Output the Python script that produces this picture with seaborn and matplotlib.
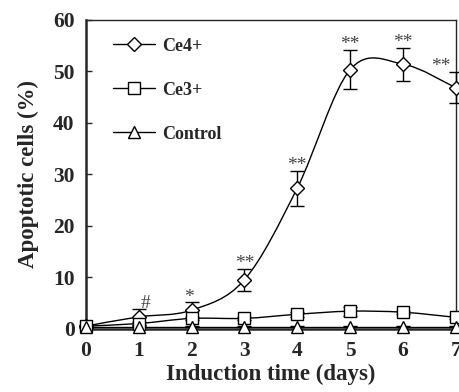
import numpy as np
import pandas as pd
import matplotlib
matplotlib.use("Agg")
import matplotlib.pyplot as plt
import seaborn as sns
from matplotlib.path import Path
from matplotlib.patches import PathPatch
from matplotlib.lines import Line2D

days = [0, 1, 2, 3, 4, 5, 6, 7]
ce4 = [0.5, 2.3, 3.6, 9.5, 27.3, 50.3, 51.4, 46.8]
ce4_err = [0.3, 1.6, 1.5, 2.1, 3.4, 3.8, 3.2, 3.0]
ce3 = [0.5, 1.0, 2.0, 2.0, 2.8, 3.4, 3.2, 2.2]
ce3_err = [0.2, 0.3, 0.3, 0.3, 0.5, 0.9, 0.3, 0.3]
ctrl = [0.4, 0.4, 0.4, 0.4, 0.4, 0.4, 0.4, 0.4]
ctrl_err = [0.1, 0.1, 0.1, 0.1, 0.1, 0.1, 0.1, 0.1]
sig_labels = ["", "#", "*", "**", "**", "**", "**", "**"]
sig_dx = [0, 0.12, -0.04, 0, 0, 0, 0, -0.28]
yticks = [0, 10, 20, 30, 40, 50, 60]

sns.set_style("ticks")
plt.rcParams['font.family'] = ['Liberation Serif', 'DejaVu Serif']
plt.rcParams['font.weight'] = 'bold'

fig = plt.figure(figsize=(4.59, 3.92), dpi=100)
ax = fig.add_axes([0.187, 0.1615, 0.806, 0.788])


def smooth_path(x, y):
    # Catmull-Rom -> cubic Bezier path through data points
    x = np.asarray(x, float); y = np.asarray(y, float)
    verts = [(x[0], y[0])]
    codes = [Path.MOVETO]
    n = len(x)
    t = 1 / 6.0
    for i in range(n - 1):
        p0 = (x[i - 1], y[i - 1]) if i > 0 else (x[i], y[i])
        p1 = (x[i], y[i]); p2 = (x[i + 1], y[i + 1])
        p3 = (x[i + 2], y[i + 2]) if i + 2 < n else p2
        c1 = (p1[0] + (p2[0] - p0[0]) * t, p1[1] + (p2[1] - p0[1]) * t)
        c2 = (p2[0] - (p3[0] - p1[0]) * t, p2[1] - (p3[1] - p1[1]) * t)
        verts += [c1, c2, p2]
        codes += [Path.CURVE4] * 3
    return Path(verts, codes)


for vals in (ce4, ce3):
    ax.add_patch(PathPatch(smooth_path(days, vals), facecolor='none',
                           edgecolor='black', lw=1.0, zorder=2, clip_on=False))

df_ctrl = pd.DataFrame({"day": days, "val": ctrl})
sns.lineplot(data=df_ctrl, x="day", y="val", color='black', lw=1.0, ax=ax,
             zorder=2, legend=False)

specs = [(ce4, ce4_err, 'D', 7), (ce3, ce3_err, 's', 8), (ctrl, ctrl_err, '^', 8.5)]
for vals, err, mk, ms in specs:
    eb = ax.errorbar(days, vals, yerr=err, fmt=mk, ms=ms, mfc='white', mec='black',
                     mew=1.0, ecolor='black', elinewidth=1.0, capsize=5,
                     capthick=1.0, zorder=3, clip_on=False)
    eb.lines[0].set_clip_on(False)
    for c in list(eb.lines[1]) + list(eb.lines[2]):
        c.set_clip_on(False)

for d, v, e, lab, dx in zip(days, ce4, ce4_err, sig_labels, sig_dx):
    if lab:
        ax.text(d + dx, v + e - 0.6, lab, ha='center', va='bottom',
                fontsize=14, fontweight='normal', color='#444444')

ax.set_xlim(0, 7)
ax.set_ylim(0, 60)
ax.set_xticks(days)
ax.set_yticks(yticks)
ax.tick_params(axis='both', direction='in', labelsize=15.5, width=1, length=4)
ax.tick_params(axis='x', length=0, pad=9)
ax.tick_params(axis='y', pad=8)
for lab in ax.get_xticklabels() + ax.get_yticklabels():
    lab.set_fontweight('bold')
for s in ['top', 'right']:
    ax.spines[s].set_visible(True)
    ax.spines[s].set_linewidth(1.0)
ax.spines['left'].set_linewidth(1.8)
ax.spines['bottom'].set_linewidth(1.8)
ax.set_xlabel("Induction time (days)", fontsize=16.5, fontweight='bold', labelpad=2)
ax.set_ylabel("Apoptotic cells (%)", fontsize=16.5, fontweight='bold', labelpad=10)

handles = [
    Line2D([], [], color='black', lw=1.0, marker='D', ms=7, mfc='white', mec='black'),
    Line2D([], [], color='black', lw=1.0, marker='s', ms=8, mfc='white', mec='black'),
    Line2D([], [], color='black', lw=1.0, marker='^', ms=8.5, mfc='white', mec='black'),
]
leg = ax.legend(handles, ["Ce4+", "Ce3+", "Control"], loc='upper left',
                frameon=False, fontsize=13, handlelength=2.3, labelspacing=1.5,
                handletextpad=0.4, bbox_to_anchor=(0.03, 0.995))
for t in leg.get_texts():
    t.set_fontweight('bold')

fig.savefig("out.png", dpi=100)
